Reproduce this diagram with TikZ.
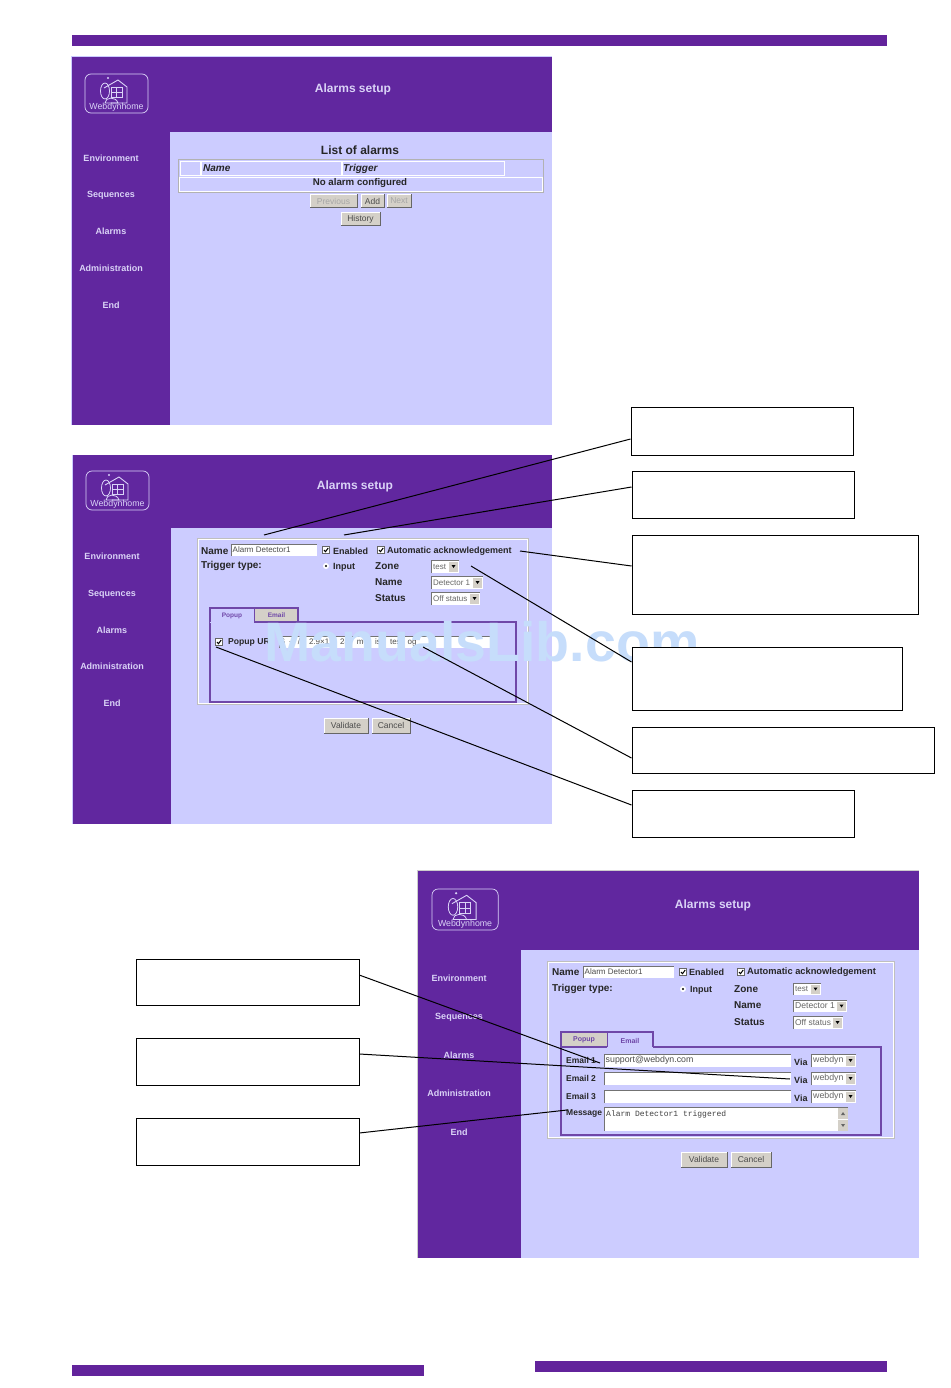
\documentclass[tikz,border=0pt]{standalone}
\usepackage{fontspec}
\setmainfont{Liberation Sans}
\newfontfamily\monof{Liberation Mono}
\definecolor{purp}{HTML}{61279F}
\definecolor{bar}{HTML}{62239B}
\definecolor{pane}{HTML}{CCCCFF}
\definecolor{lite}{HTML}{DAD3F7}
\definecolor{btnc}{HTML}{D4D0C8}
\definecolor{frm}{HTML}{6F47A8}
\definecolor{mark}{HTML}{C6DDFB}
\newcommand{\fs}[1]{\fontsize{#1}{#1}\selectfont}
\tikzset{
  x=1pt,y=-1pt,
  menu/.style={text=lite,font=\fs{9}\bfseries,inner sep=0pt,text height=7pt,text depth=1pt},
  title/.style={text=lite,font=\fs{12}\bfseries,inner sep=0pt,text height=9pt,text depth=1pt},
  lab/.style={anchor=west,inner sep=0pt,text=black!85,font=\fs{#1}},
  lab/.default=9,
  blab/.style={anchor=west,inner sep=0pt,text=black!85,font=\fs{#1}\bfseries},
  blab/.default=9,
  callout/.style={draw=black,fill=white,line width=0.7pt},
  link/.style={draw=black,line width=1pt},
}
% name x1 y1 x2 y2 text
\newcommand{\uibtn}[6]{%
  \fill[btnc] (#2,#3) rectangle (#4,#5);
  \draw[white,line width=.8pt] (#2,#5) -- (#2,#3) -- (#4,#3);
  \draw[black!60,line width=1pt] (#2,#5) -- (#4,#5) -- (#4,#3);
  \node[inner sep=0pt,font=\fs{8.5},text=black!70] (#1) at ({(#2+#4)/2},{(#3+#5)/2}) {#6};}
\newcommand{\uidis}[6]{%
  \fill[btnc] (#2,#3) rectangle (#4,#5);
  \draw[white,line width=.8pt] (#2,#5) -- (#2,#3) -- (#4,#3);
  \draw[black!60,line width=1pt] (#2,#5) -- (#4,#5) -- (#4,#3);
  \node[inner sep=0pt,font=\fs{8.5},text=black!35] (#1) at ({(#2+#4)/2},{(#3+#5)/2}) {#6};}
\newcommand{\uiinp}[6]{%
  \fill[white] (#2,#3) rectangle (#4,#5);
  \draw[black!55,line width=.8pt] (#2,#5) -- (#2,#3) -- (#4,#3);
  \node[anchor=west,inner sep=0pt,font=\fs{8},text=black!70] (#1) at ({#2+1.5},{(#3+#5)/2}) {#6};}
\newcommand{\uisel}[6]{%
  \fill[white] (#2,#3) rectangle (#4,#5);
  \draw[black!55,line width=.7pt] (#2,#5) -- (#2,#3) -- (#4,#3);
  \fill[btnc] ({#4-10},{#3+1.5}) rectangle ({#4-1},{#5-1.5});
  \fill[black] ({#4-7.5},{(#3+#5)/2-1.5}) -- ({#4-3.5},{(#3+#5)/2-1.5}) -- ({#4-5.5},{(#3+#5)/2+1.5}) -- cycle;
  \node[anchor=west,inner sep=0pt,font=\fs{8},text=black!60] (#1) at ({#2+2},{(#3+#5)/2}) {#6};}
\newcommand{\uichk}[2]{%
  \fill[white] (#1-3.5,#2-3.5) rectangle (#1+3.5,#2+3.5);
  \draw[black!60,line width=.6pt] (#1-3.5,#2-3.5) rectangle (#1+3.5,#2+3.5);
  \draw[black,line width=1pt] (#1-2,#2) -- (#1-.5,#2+1.7) -- (#1+2.2,#2-2);}
\newcommand{\uilogo}[4]{%
  \begin{scope}[shift={(#2,#3)},scale=#4]
    \draw[lite,line width=.7pt,rounded corners=6pt] (0,0) rectangle (63,39);
    \draw[lite,line width=.9pt] (19,14) -- (33,6) -- (42,13) -- (42,29) -- (26,29);
    \draw[lite,line width=.8pt] (26,13) rectangle (37,23) (31.5,13) -- (31.5,23) (26,18) -- (37,18);
    \draw[lite,line width=.8pt] (20,17) ellipse [x radius=4.5,y radius=8];
    \draw[lite,line width=.8pt] (20,29) .. controls (20,23) and (31,22) .. (33,29) -- cycle;
    \fill[lite] (23,4) circle (1.2);
    \node[inner sep=0pt,text=lite,font=\fs{8.8}] (#1) at (31.5,33.5) {Webdynhome};
  \end{scope}}
\begin{document}
\begin{tikzpicture}
\useasboundingbox (0,0) rectangle (950,1388);
\fill[white] (0,0) rectangle (950,1388);
% page bars
\fill[bar] (72,35) rectangle (887,46);
\fill[bar] (72,1365) rectangle (424,1376);
\fill[bar] (535,1361) rectangle (887,1372);

% ---------- screen 1
\fill[purp] (72,57) rectangle (552,425);
\fill[pane] (170,132) rectangle (552,425);
\draw[pane,line width=.8pt] (71.6,425) -- (71.6,56.6) -- (552,56.6);
\uilogo{logoa}{85}{74}{1}
\node[title] (titlea) at (353,89) {Alarms setup};
\node[menu] (mea) at (111,159) {Environment};
\node[menu] (mga) at (111,195) {Sequences};
\node[menu] (maa) at (111,232) {Alarms};
\node[menu] (mda) at (111,268) {Administration};
\node[menu] (mna) at (111,305) {End};
\node[inner sep=0pt,font=\fs{12}\bfseries,text=black!85] (lista) at (360,150) {List of alarms};
\draw[black!30,line width=.8pt] (178,159) rectangle (543,192);
\draw[white,line width=.8pt] (180,161) rectangle (200,175) (201,161) rectangle (341,175) (342,161) rectangle (504,175) (179,177) rectangle (542,191);
\node[inner sep=0pt,anchor=west,font=\fs{10}\bfseries\itshape,text=black!85] (hna) at (203,168.5) {Name};
\node[inner sep=0pt,anchor=west,font=\fs{10}\bfseries\itshape,text=black!85] (hta) at (343,168.5) {Trigger};
\node[inner sep=0pt,font=\fs{9.7}\bfseries,text=black!85] (noa) at (360,183.5) {No alarm configured};
\uidis{pra}{310}{194}{357}{208}{Previous}
\uibtn{ada}{361}{194}{384}{208}{Add}
\uidis{nxa}{387}{194}{411}{208}{Next}
\uibtn{hia}{341}{212}{380}{226}{History}

% ---------- screen 2
\fill[purp] (73,455) rectangle (552,824);
\fill[pane] (171,528) rectangle (552,824);
\draw[pane,line width=.8pt] (72.6,824) -- (72.6,455);
\uilogo{logob}{86}{471}{1}
\node[title] (titleb) at (355,485) {Alarms setup};
\node[menu] (meb) at (112,556) {Environment};
\node[menu] (mgb) at (112,593) {Sequences};
\node[menu] (mab) at (112,630) {Alarms};
\node[menu] (mdb) at (112,666) {Administration};
\node[menu] (mnb) at (112,703) {End};
\draw[black!25,line width=.8pt] (197,538) rectangle (528,704);
\draw[white,line width=.6pt] (198,539) rectangle (527,703);
\node[blab=10] (nmb) at (201,551) {Name};
\uiinp{inb}{231}{544}{317}{556}{Alarm Detector1}
\uichk{326}{550}
\node[blab] (enb) at (333,551) {Enabled};
\uichk{381}{550}
\node[blab] (aub) at (387,551) {Automatic acknowledgement};
\node[blab=10] (ttb) at (201,566) {Trigger type:};
\fill[white] (326,566) circle (3); \fill[black] (326,566) circle (1.2);
\node[blab] (ipb) at (333,567.5) {Input};
\node[blab=10] (zob) at (375,566) {Zone};
\node[blab=10] (nab) at (375,582) {Name};
\node[blab=10] (stb) at (375,598) {Status};
\uisel{szb}{431}{560}{459}{573}{test}
\uisel{snb}{431}{576}{483}{589}{Detector 1}
\uisel{ssb}{431}{592}{480}{605}{Off status}
\draw[frm,line width=1.2pt] (210,622) rectangle (516,702);
\fill[pane] (210,608) rectangle (254,622.6);
\draw[frm,line width=1.2pt] (210,622) -- (210,608) -- (254,608);
\node[inner sep=0pt,font=\fs{6.5}\bfseries,text=frm] (tpb) at (232,616) {Popup};
\fill[btnc] (255,608) rectangle (298,621);
\draw[frm,line width=1.2pt] (254.5,622) -- (254.5,608) -- (298,608) -- (298,622);
\node[inner sep=0pt,font=\fs{6.5}\bfseries,text=frm] (teb) at (276.5,615) {Email};
\uichk{219}{642}
\node[blab=8.6] (pub) at (228,642.5) {Popup UR};
\uiinp{urb}{279}{636}{491}{648}{6\hspace{4pt}+\hspace{4pt}/\hspace{9pt}2.9×1'\hspace{9pt}28\hspace{8pt}mo\hspace{7pt}ist\hspace{7pt}tes\hspace{7pt}og}

% watermark
\node[inner sep=0pt,font=\fs{55.5}\bfseries,text=mark] (wmark) at (482,641.5) {ManualsLib.com};

\uibtn{vab}{324}{718}{368}{733}{Validate}
\uibtn{cab}{372}{718}{410}{733}{Cancel}

% ---------- screen 3
\fill[purp] (418,871) rectangle (919,1258);
\fill[pane] (521,950) rectangle (919,1258);
\draw[black!20,line width=.8pt] (417.6,1258) -- (417.6,870.6) -- (919,870.6);
\uilogo{logoc}{432}{889}{1.05}
\node[title] (titlec) at (713,904) {Alarms setup};
\node[menu] (mec) at (459,978) {Environment};
\node[menu] (mgc) at (459,1016) {Sequences};
\node[menu] (mac) at (459,1055) {Alarms};
\node[menu] (mdc) at (459,1093) {Administration};
\node[menu] (mnc) at (459,1132) {End};
\draw[black!25,line width=.8pt] (547,961) rectangle (894,1138);
\draw[white,line width=.6pt] (548,962) rectangle (893,1137);
\node[blab=10] (nmc) at (552,972) {Name};
\uiinp{inc}{583}{966}{674}{978}{Alarm Detector1}
\uichk{683}{972}
\node[blab] (enc) at (689,972.5) {Enabled};
\uichk{741}{972}
\node[blab=9.3] (auc) at (747,972.5) {Automatic acknowledgement};
\node[blab=10] (ttc) at (552,989) {Trigger type:};
\fill[white] (683,989) circle (3); \fill[black] (683,989) circle (1.2);
\node[blab] (ipc) at (690,990) {Input};
\node[blab=10] (zoc) at (734,989) {Zone};
\node[blab=10] (nac) at (734,1005.5) {Name};
\node[blab=10] (stc) at (734,1022) {Status};
\uisel{szc}{793}{983}{821}{995}{test}
\uisel{snc}{793}{1000}{847}{1012}{\fs{8.6}Detector 1}
\uisel{ssc}{793}{1016}{843}{1029}{\fs{8.4}Off status}
\fill[btnc] (561,1033) rectangle (607,1046.5);
\draw[frm,line width=1.2pt] (561,1047) -- (561,1032) -- (653,1032) -- (653,1047);
\draw[frm,line width=1.2pt] (607.5,1047) -- (607.5,1032);
\node[inner sep=0pt,font=\fs{7}\bfseries,text=frm] (tpc) at (584,1040) {Popup};
\node[inner sep=0pt,font=\fs{7}\bfseries,text=frm] (tec) at (630,1040.5) {Email};
\draw[frm,line width=1.2pt] (561,1047) -- (561,1135) -- (881,1135) -- (881,1047) -- (653,1047);
\draw[frm,line width=1.2pt] (561,1047) -- (607,1047);
\node[blab=8.5] (e1c) at (566,1060.5) {Email 1};
\node[blab=8.5] (e2c) at (566,1078.5) {Email 2};
\node[blab=8.5] (e3c) at (566,1096.5) {Email 3};
\node[blab=8.5] (msc) at (566,1113.5) {Message};
\uiinp{i1c}{604}{1054}{791}{1067}{\fs{8.8}support@webdyn.com}
\uiinp{i2c}{604}{1072}{791}{1085}{}
\uiinp{i3c}{604}{1090}{791}{1103}{}
\node[blab] (v1c) at (794,1062) {Via};
\node[blab] (v2c) at (794,1080) {Via};
\node[blab] (v3c) at (794,1098) {Via};
\uisel{w1c}{811}{1054}{856}{1067}{\fs{8.8}webdyn}
\uisel{w2c}{811}{1072}{856}{1085}{\fs{8.8}webdyn}
\uisel{w3c}{811}{1090}{856}{1103}{\fs{8.8}webdyn}
\fill[white] (604,1107) rectangle (848,1131);
\draw[black!55,line width=.8pt] (604,1131) -- (604,1107) -- (848,1107);
\fill[btnc] (838,1108) rectangle (848,1131);
\draw[white,line width=.8pt] (838,1119.5) -- (848,1119.5);
\fill[black!60] (841,1115) -- (845,1115) -- (843,1112) -- cycle;
\fill[black!60] (841,1124) -- (845,1124) -- (843,1127) -- cycle;
\node[anchor=west,inner sep=0pt,font=\fs{8}\monof,text=black!75] (txc) at (606,1114.5) {Alarm Detector1 triggered};
\uibtn{vac}{681}{1152}{727}{1167}{Validate}
\uibtn{cac}{731}{1152}{771}{1167}{Cancel}

% ---------- callout boxes
\node[callout,anchor=north west,minimum width=222pt,minimum height=48pt] (ba) at (630.5,406.5) {};
\node[callout,anchor=north west,minimum width=222pt,minimum height=47pt] (bb) at (631.5,470.5) {};
\node[callout,anchor=north west,minimum width=286pt,minimum height=79pt] (bc) at (631.5,534.5) {};
\node[callout,anchor=north west,minimum width=270pt,minimum height=63pt] (bd) at (631.5,646.5) {};
\node[callout,anchor=north west,minimum width=302pt,minimum height=46pt] (be) at (631.5,726.5) {};
\node[callout,anchor=north west,minimum width=222pt,minimum height=47pt] (bf) at (631.5,789.5) {};
\node[callout,anchor=north west,minimum width=223pt,minimum height=46pt] (bg) at (135.5,958.5) {};
\node[callout,anchor=north west,minimum width=223pt,minimum height=47pt] (bh) at (135.5,1037.5) {};
\node[callout,anchor=north west,minimum width=223pt,minimum height=47pt] (bi) at (135.5,1117.5) {};

% ---------- connectors
\coordinate (ta) at (264,535);
\coordinate (tb) at (344,535);
\coordinate (tc) at (520,551);
\coordinate (td) at (471,566);
\coordinate (te) at (423,647);
\coordinate (tf) at (216,647);
\coordinate (tg) at (600,1063);
\coordinate (th) at (790,1079);
\coordinate (ti) at (567,1110);
\draw[link] (ba.west |- 0,439) -- (ta);
\draw[link] (bb.west |- 0,487) -- (tb);
\draw[link] (bc.west |- 0,566) -- (tc);
\draw[link] (bd.west |- 0,662) -- (td);
\draw[link] (be.west |- 0,758) -- (te);
\draw[link] (bf.west |- 0,805) -- (tf);
\draw[link] (bg.east |- 0,975) -- (tg);
\draw[link] (bh.east |- 0,1054) -- (th);
\draw[link] (bi.east |- 0,1133) -- (ti);
\end{tikzpicture}
\end{document}
